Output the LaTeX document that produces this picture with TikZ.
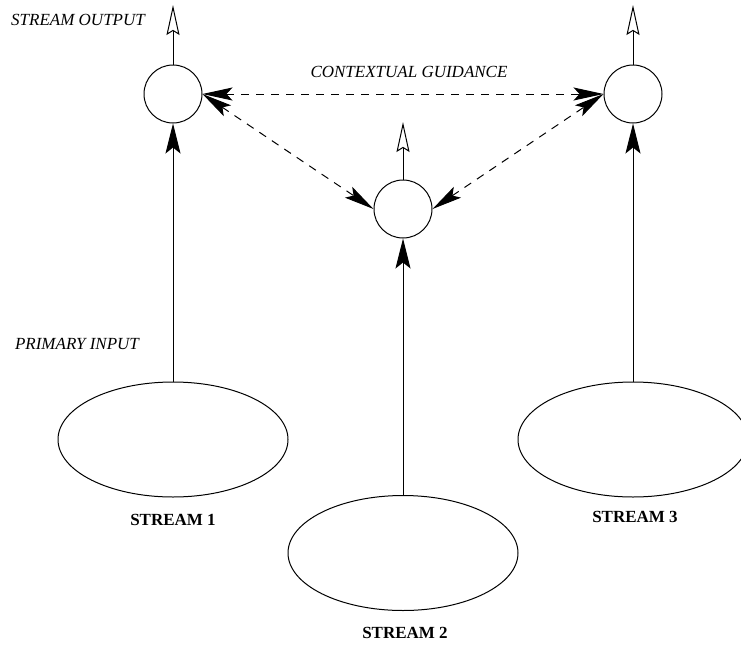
\documentclass[tikz,border=0pt]{standalone}
\usepackage{fontspec}
\setmainfont{Liberation Serif}
\usetikzlibrary{arrows.meta,shapes.geometric}
\begin{document}
\begin{tikzpicture}[x=1pt,y=-1pt,line width=1pt,
  unit/.style={circle,draw,minimum size=58pt,inner sep=0pt},
  source/.style={ellipse,draw,minimum width=230pt,minimum height=115pt,inner sep=0pt},
  lbl/.style={font=\fontsize{17}{19}\selectfont\bfseries,inner sep=0pt},
  note/.style={font=\fontsize{17}{19}\selectfont\itshape,inner sep=0pt},
  feed/.style={-{Stealth[length=30pt,width=15pt,inset=6pt]}},
  outarr/.style={-{Stealth[open,length=30pt,width=13pt,inset=4pt]}},
  guide/.style={dash pattern=on 8pt off 7pt,{Stealth[length=30pt,width=13pt,inset=6pt]}-{Stealth[length=30pt,width=13pt,inset=6pt]}}]
\useasboundingbox (0,0) rectangle (741,645);
\node[unit] (c1) at (173,94) {};
\node[unit] (c2) at (403,209) {};
\node[unit] (c3) at (633,94) {};
\node[source] (e1) at (173,439.5) {};
\node[source] (e2) at (403,553) {};
\node[source] (e3) at (633,439.5) {};
\coordinate (o1) at (173,5);
\coordinate (o2) at (403,122);
\coordinate (o3) at (633,5);
\node[lbl] (l1) at (173,520) {STREAM 1};
\node[lbl] (l2) at (405,633) {STREAM 2};
\node[lbl] (l3) at (635,517) {STREAM 3};
\node[note] (so) at (78,20) {STREAM OUTPUT};
\node[note] (pi) at (77,344) {PRIMARY INPUT};
\node[note] (cg) at (409,72) {CONTEXTUAL GUIDANCE};
\draw[feed] (e1.north) -- (c1.south);
\draw[feed] (e2.north) -- (c2.south);
\draw[feed] (e3.north) -- (c3.south);
\draw[outarr] (c1.north) -- (o1);
\draw[outarr] (c2.north) -- (o2);
\draw[outarr] (c3.north) -- (o3);
\draw[guide] (c1.east) -- (c3.west);
\draw[guide] (c1.east) -- (c2.west);
\draw[guide] (c2.east) -- (c3.west);
\end{tikzpicture}
\end{document}
